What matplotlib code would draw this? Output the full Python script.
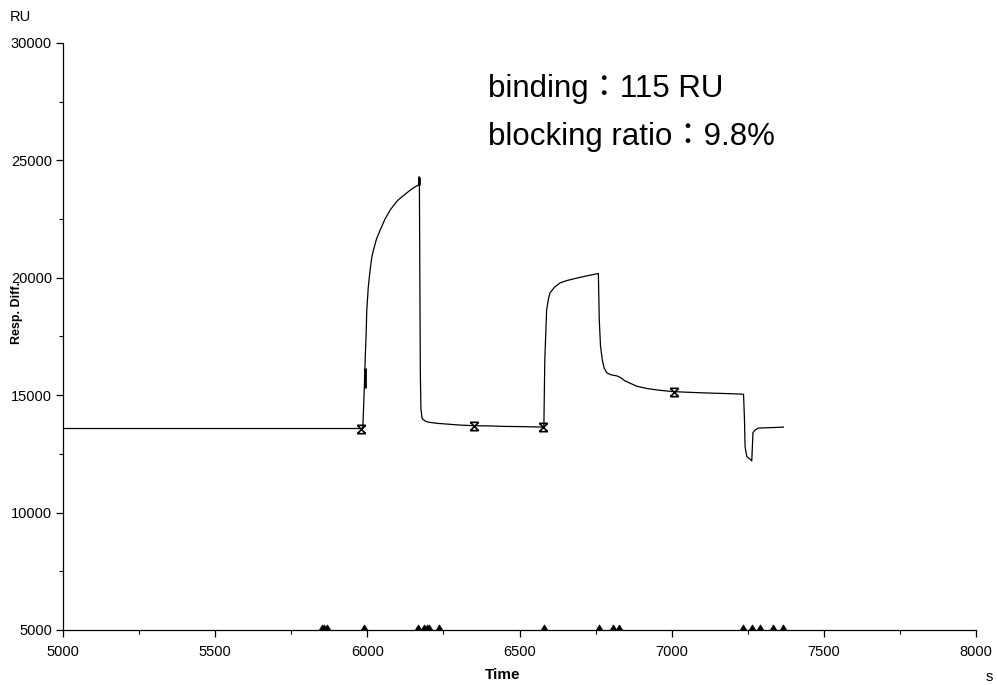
import numpy as np
import matplotlib
matplotlib.use("Agg")
import matplotlib.pyplot as plt
from matplotlib.path import Path
from matplotlib.ticker import MultipleLocator

plt.rcParams['font.family'] = ['Liberation Sans', 'Noto Sans CJK TC', 'DejaVu Sans']

# sensorgram, response difference (RU) against time (s)
time_s = [5000, 5978, 5985, 5990, 5993, 5996, 5998, 6003, 6009, 6015, 6020,
          6030, 6042, 6058, 6075, 6100, 6129, 6150, 6168, 6170, 6171, 6174,
          6176, 6180, 6190, 6200, 6230, 6261, 6300, 6349, 6400, 6450, 6513,
          6576, 6580, 6583, 6589, 6595, 6600, 6615, 6633, 6655, 6677, 6720,
          6759, 6762, 6766, 6772, 6778, 6787, 6800, 6820, 6832, 6845, 6865,
          6885, 6920, 6960, 7006, 7100, 7200, 7236, 7239, 7241, 7247, 7258,
          7263, 7267, 7274, 7285, 7330, 7367]
resp_ru = [13580, 13580, 13600, 15300, 16600, 17600, 18600, 19600, 20330, 20900, 21180,
           21650, 22030, 22500, 22890, 23300, 23610, 23820, 23950, 24300, 23900, 16000,
           14400, 14000, 13900, 13850, 13800, 13770, 13730, 13700, 13690, 13670, 13660,
           13640, 13700, 16500, 18630, 19100, 19350, 19600, 19780, 19880, 19950, 20080,
           20180, 18200, 17100, 16500, 16150, 15950, 15870, 15820, 15750, 15620, 15500,
           15380, 15280, 15210, 15150, 15100, 15060, 15040, 14000, 12810, 12380, 12270,
           12200, 13400, 13520, 13600, 13620, 13640]

# short injection marks drawn thicker
inj_t = [[5991, 5991], [6169, 6169]]
inj_ru = [[15300, 16150], [23950, 24300]]

# report points
rp_t = [5979, 6349, 6576, 7006]
rp_ru = [13580, 13700, 13640, 15150]

# event markers along the time axis
ev_t = [5850, 5859, 5867, 5989, 6168, 6186, 6195, 6203, 6236, 6581, 6761,
        6808, 6828, 7233, 7263, 7290, 7332, 7367]
ev_ru = [5000] * len(ev_t)

fig = plt.figure(figsize=(9.97, 6.85), dpi=100)
ax = fig.add_axes([0.0632, 0.0803, 0.9158, 0.857])

ax.plot(time_s, resp_ru, color='black', lw=0.9)
for t, r in zip(inj_t, inj_ru):
    ax.plot(t, r, color='black', lw=2.0, solid_capstyle='butt')

star = Path([(-1, 1), (1, 1), (-1, -1), (1, -1), (-1, 1), (1, -1), (-1, -1), (1, 1)],
            [Path.MOVETO, Path.LINETO, Path.MOVETO, Path.LINETO,
             Path.MOVETO, Path.LINETO, Path.MOVETO, Path.LINETO])
ax.plot(rp_t, rp_ru, ls='none', marker=star, ms=6, mec='black', mew=1.2)

tri = Path([(-1, 0), (1, 0), (0, 1.6), (-1, 0)])
ax.plot(ev_t, ev_ru, ls='none', marker=tri, ms=8, mfc='black', mec='black',
        mew=0.5, clip_on=False, zorder=5)

ax.set_xlim(5000, 8000)
ax.set_ylim(5000, 30000)
ax.xaxis.set_major_locator(MultipleLocator(500))
ax.xaxis.set_minor_locator(MultipleLocator(250))
ax.yaxis.set_major_locator(MultipleLocator(5000))
ax.yaxis.set_minor_locator(MultipleLocator(2500))
ax.tick_params(which='major', direction='out', length=5, width=0.9, labelsize=10.5, pad=3)
ax.tick_params(axis='x', which='major', pad=6)
ax.tick_params(which='minor', direction='out', length=3, width=0.8)

for side in ('top', 'right'):
    ax.spines[side].set_visible(False)
for side in ('left', 'bottom'):
    ax.spines[side].set_linewidth(0.9)

ax.set_xlabel('Time', fontsize=11, fontweight='bold')
ax.xaxis.label.set_va('center')
ax.xaxis.set_label_coords(0.481, -0.077)
ax.set_ylabel('Resp. Diff.', fontsize=9, fontweight='bold')
ax.yaxis.label.set_va('center')
ax.yaxis.set_label_coords(-0.05, 0.54)
fig.text(20 / 997, 1 - 17 / 685, 'RU', fontsize=10.5, ha='center', va='center')
fig.text(989 / 997, 1 - 677 / 685, 's', fontsize=10.5, ha='center', va='center')

ax.text(0.4655, 0.9085, 'binding：115 RU', transform=ax.transAxes,
        fontsize=22.5, va='baseline', ha='left')
ax.text(0.4655, 0.8268, 'blocking ratio：9.8%', transform=ax.transAxes,
        fontsize=22.5, va='baseline', ha='left')

fig.savefig('out.png', dpi=100)
